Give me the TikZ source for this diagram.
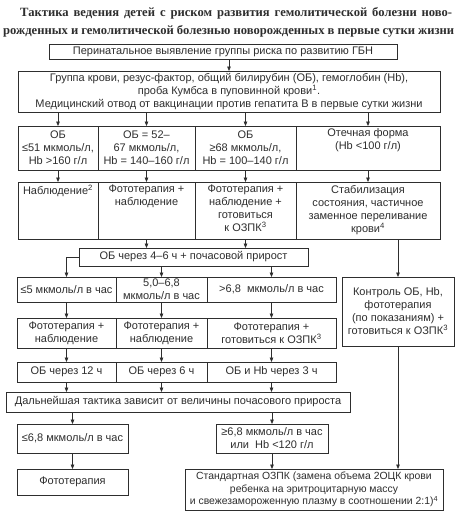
\documentclass[tikz,border=0pt]{standalone}
\usepackage{fontspec}
\setmainfont{Liberation Sans}
\newfontfamily\titlefont{Liberation Serif}
\usetikzlibrary{arrows.meta}
\definecolor{lc}{HTML}{2E2E2E}
\tikzset{
  boxst/.style={draw=lc, line width=0.8pt, inner sep=0pt, outer sep=0pt, text=lc,
    font=\fontsize{11}{13}\selectfont},
  arr/.style={draw=lc, line width=0.8pt, -{Triangle[length=4.5pt,width=3.6pt]}},
  ttl/.style={anchor=west, inner sep=0pt, text=lc, font=\titlefont\bfseries\fontsize{12.6}{14}\selectfont}
}
% name, x, y, width, height, vertical pos, text
\newcommand{\mybox}[7]{\node[boxst, anchor=north west] (#1) at (#2,#3) {\parbox[c][#5pt][#6]{#4pt}{\centering #7}};}
\begin{document}
\begin{tikzpicture}[x=1pt,y=-1pt]
\useasboundingbox[fill=white] (0,0) rectangle (457,512);
% title
\node[ttl] (title1) at (20,13) {\makebox[432pt][s]{Тактика ведения детей с риском развития гемолитической болезни ново-}};
\node[ttl] (title2) at (3,31) {\makebox[451pt][s]{рожденных и гемолитической болезнью новорожденных в первые сутки жизни}};
% top boxes
\mybox{top}{49}{44}{348}{15}{c}{Перинатальное выявление группы риска по развитию ГБН}
\mybox{lab}{18}{71}{422}{41}{c}{Группа крови, резус-фактор, общий билирубин (ОБ), гемоглобин (Hb),\\ проба Кумбса в пуповинной крови\textsuperscript{1}.\\ Медицинский отвод от вакцинации против гепатита В в первые сутки жизни}
% row 3
\mybox{ra}{18}{126}{80}{44}{c}{ОБ\\ ≤51 мкмоль/л,\\ Hb >160 г/л}
\mybox{rb}{98}{126}{97}{44}{c}{ОБ = 52–\\ 67 мкмоль/л,\\ Hb = 140–160 г/л}
\mybox{rc}{195}{126}{101}{44}{c}{ОБ\\ ≥68 мкмоль/л,\\ Hb = 100–140 г/л}
\mybox{rd}{296}{126}{144}{44}{t}{\vspace{3pt}Отечная форма\\ (Hb <100 г/л)}
% row 4
\mybox{sa}{18}{182}{80}{57}{t}{\vspace{3pt}Наблюдение\textsuperscript{2}}
\mybox{sb}{98}{182}{97}{57}{t}{\vspace{3pt}Фототерапия +\\ наблюдение}
\mybox{sc}{195}{182}{101}{57}{t}{\vspace{3pt}Фототерапия +\\ наблюдение +\\ готовиться\\ к ОЗПК\textsuperscript{3}}
\mybox{sd}{296}{182}{144}{57}{t}{\vspace{3pt}Стабилизация\\ состояния, частичное\\ заменное переливание\\ крови\textsuperscript{4}}
% OB 4-6 h
\mybox{ob}{79}{248}{229}{18}{c}{ОБ через 4–6 ч + почасовой прирост}
% row 5
\mybox{ua}{17}{277}{99}{25}{c}{≤5 мкмоль/л в час}
\mybox{ub}{116}{277}{91}{25}{c}{5,0–6,8\\ мкмоль/л в час}
\mybox{uc}{207}{277}{129}{25}{c}{>6,8\ \ мкмоль/л в час}
% control
\mybox{kt}{342}{277}{112}{69}{c}{Контроль ОБ, Hb,\\ фототерапия\\ (по показаниям) +\\ готовиться к ОЗПК\textsuperscript{3}}
% row 6
\mybox{va}{17}{318}{99}{30}{c}{Фототерапия +\\ наблюдение}
\mybox{vb}{116}{318}{91}{30}{c}{Фототерапия +\\ наблюдение}
\mybox{vc}{207}{318}{129}{30}{c}{Фототерапия +\\ готовиться к ОЗПК\textsuperscript{3}}
% row 7
\mybox{wa}{17}{362}{99}{20}{c}{ОБ через 12 ч}
\mybox{wb}{116}{362}{91}{20}{c}{ОБ через 6 ч}
\mybox{wc}{207}{362}{129}{20}{c}{ОБ и Hb через 3 ч}
% further
\mybox{dal}{6}{392}{344}{20}{c}{Дальнейшая тактика зависит от величины почасового прироста}
% bottom
\mybox{la}{17}{424}{111}{29}{c}{≤6,8 мкмоль/л в час}
\mybox{lb}{17}{469}{111}{26}{c}{Фототерапия}
\mybox{pa}{216}{424}{112}{29}{c}{≥6,8 мкмоль/л в час\\ или\ \ Hb <120 г/л}
\mybox{pb}{185}{469}{258}{41}{c}{\fontsize{10.4}{12.5}\selectfont Стандартная ОЗПК (замена объема 2ОЦК крови\\ ребенка на эритроцитарную массу\\ и свежезамороженную плазму в соотношении 2:1)\textsuperscript{4}}
% connectors
\draw[arr] (top.south -| lab.north) -- (lab.north);
\foreach \n in {ra,rb,rc,rd} {\draw[arr] (lab.south -| \n.north) -- (\n.north);}
\draw[arr] (ra) -- (sa);
\draw[arr] (rb) -- (sb);
\draw[arr] (rc) -- (sc);
\draw[arr] (rd) -- (sd);
\draw[arr] (sb.south) -- (sb.south |- ob.north);
\draw[arr] (sc.south) -- (sc.south |- ob.north);
\draw[arr] (sd.south -| kt.north) -- (kt.north);
\draw[arr] (ob.west) -| (ua.north);
\draw[arr] (ob.south -| ub.north) -- (ub.north);
\draw[arr] (ob.south -| uc.north) -- (uc.north);
\draw[arr] (ua) -- (va);
\draw[arr] (ub) -- (vb);
\draw[arr] (uc) -- (vc);
\draw[arr] (va) -- (wa);
\draw[arr] (vb) -- (wb);
\draw[arr] (vc) -- (wc);
\draw[arr] (wa.south) -- (wa.south |- dal.north);
\draw[arr] (wb.south) -- (wb.south |- dal.north);
\draw[arr] (wc.south) -- (wc.south |- dal.north);
\draw[arr] (dal.south -| la.north) -- (la.north);
\draw[arr] (dal.south -| pa.north) -- (pa.north);
\draw[arr] (la) -- (lb);
\draw[arr] (pa.south) -- (pa.south |- pb.north);
\draw[arr] (kt.south) -- (kt.south |- pb.north);
\end{tikzpicture}
\end{document}
